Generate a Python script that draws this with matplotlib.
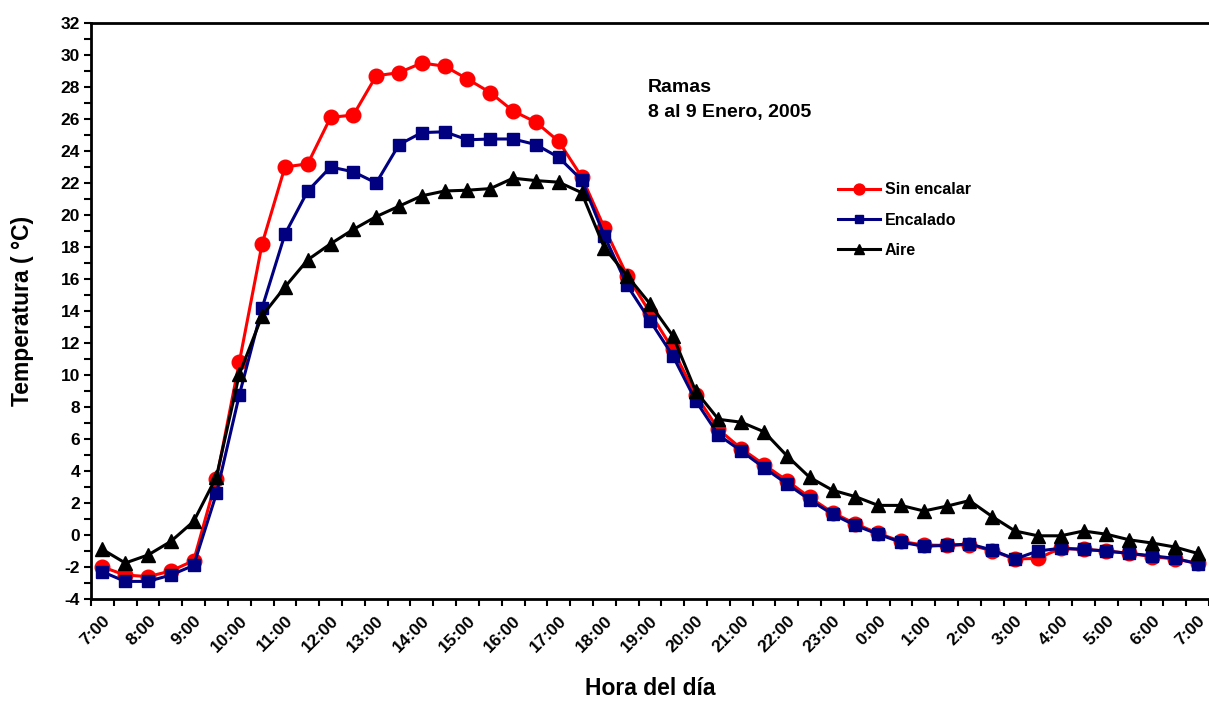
import numpy as np
import matplotlib
matplotlib.use("Agg")
import matplotlib.pyplot as plt
from matplotlib.ticker import MultipleLocator, FuncFormatter

# half-hour readings, 7:00 day 1 -> 7:00 day 2
hours = ['7:00', '8:00', '9:00', '10:00', '11:00', '12:00', '13:00', '14:00',
         '15:00', '16:00', '17:00', '18:00', '19:00', '20:00', '21:00', '22:00',
         '23:00', '0:00', '1:00', '2:00', '3:00', '4:00', '5:00', '6:00', '7:00']

sin_encalar = [-2.0, -2.5, -2.6, -2.25, -1.6, 3.5, 10.8, 18.2, 23.0, 23.2,
               26.1, 26.25, 28.7, 28.9, 29.5, 29.3, 28.5, 27.65, 26.5, 25.8,
               24.6, 22.4, 19.2, 16.2, 13.9, 11.6, 8.75, 6.6, 5.4, 4.4,
               3.4, 2.35, 1.4, 0.7, 0.1, -0.4, -0.63, -0.65, -0.6, -1.0,
               -1.5, -1.46, -0.83, -0.9, -1.0, -1.15, -1.35, -1.5, -1.75]

encalado = [-2.3, -2.9, -2.9, -2.5, -1.9, 2.6, 8.75, 14.2, 18.8, 21.5,
            23.0, 22.7, 22.0, 24.4, 25.15, 25.2, 24.7, 24.75, 24.75, 24.4,
            23.6, 22.2, 18.7, 15.6, 13.4, 11.2, 8.4, 6.25, 5.25, 4.2,
            3.2, 2.2, 1.3, 0.6, 0.05, -0.45, -0.7, -0.65, -0.56, -0.94,
            -1.5, -1.0, -0.83, -0.9, -1.0, -1.15, -1.3, -1.46, -1.8]

aire = [-0.9, -1.75, -1.25, -0.4, 0.85, 3.65, 10.05, 13.7, 15.5, 17.2,
        18.2, 19.1, 19.9, 20.55, 21.2, 21.5, 21.55, 21.65, 22.3, 22.15,
        22.05, 21.4, 17.95, 16.2, 14.45, 12.45, 9.0, 7.23, 7.05, 6.45,
        4.95, 3.6, 2.8, 2.4, 1.85, 1.85, 1.5, 1.8, 2.15, 1.15,
        0.25, -0.05, -0.05, 0.25, 0.05, -0.3, -0.5, -0.75, -1.15]

plt.rcParams['font.family'] = ['Liberation Sans', 'DejaVu Sans']
plt.rcParams['font.weight'] = 'bold'

fig = plt.figure(figsize=(12.09, 7.03), dpi=100)
ax = fig.add_axes([91 / 1209, 1 - 599 / 703, 1118 / 1209, 576 / 703])

x = np.arange(len(sin_encalar))
ax.plot(x, sin_encalar, color='#FF0000', lw=2.2, marker='o', ms=10.5,
        label='Sin encalar', zorder=3)
ax.plot(x, encalado, color='#000080', lw=2.2, marker='s', ms=8.5,
        label='Encalado', zorder=4)
ax.plot(x, aire, color='black', lw=2.2, marker='^', ms=9.5,
        label='Aire', zorder=5)

ax.set_xlim(-0.5, len(x) - 0.5)
ax.set_ylim(-4, 32)

# y axis: ticks every 1, labels every 2
ax.yaxis.set_major_locator(MultipleLocator(2))
ax.yaxis.set_minor_locator(MultipleLocator(1))
ax.yaxis.set_major_formatter(FuncFormatter(lambda v, p: f"{v:.0f}"))
ax.tick_params(axis='y', which='both', direction='out', length=5, width=1.5,
               labelsize=12.5, pad=3)

# x axis: tick marks between categories, labels at every hour
ax.set_xticks(np.arange(-0.5, len(x), 1), minor=True)
ax.set_xticks(x[::2])
ax.set_xticklabels(hours, rotation=45, ha='right', rotation_mode='anchor')
ax.tick_params(axis='x', which='minor', direction='out', length=5, width=1.5)
ax.tick_params(axis='x', which='major', length=0, labelsize=12.5, pad=10)
for lab in ax.get_xticklabels() + ax.get_yticklabels():
    lab.set_fontweight('bold')

for side in ['left', 'bottom', 'top']:
    ax.spines[side].set_linewidth(2)
ax.spines['right'].set_visible(False)

ax.set_xlabel('Hora del día', fontsize=16.5, fontweight='bold', labelpad=16)
ax.set_ylabel('Temperatura ( °C)', fontsize=16.5, fontweight='bold',
              labelpad=19)

fig.text(648 / 1209, 1 - 88 / 703, 'Ramas', fontsize=14, fontweight='bold',
         va='center')
fig.text(648 / 1209, 1 - 113 / 703, '8 al 9 Enero, 2005', fontsize=14,
         fontweight='bold', va='center')

ax.legend(loc='upper left', bbox_to_anchor=(824 / 1209, 1 - 168 / 703),
          bbox_transform=fig.transFigure, frameon=False,
          prop={'size': 11.5, 'weight': 'bold'}, handlelength=2.6,
          labelspacing=0.95, handletextpad=0.3, markerscale=0.75)

plt.savefig('out.png', dpi=100)
